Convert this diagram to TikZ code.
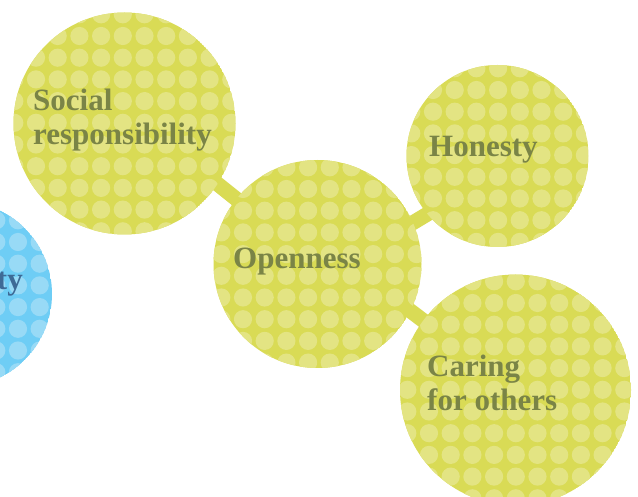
\documentclass[tikz,border=0pt]{standalone}
\usepackage{fontspec}
\setmainfont{Liberation Serif}
\definecolor{leaf}{RGB}{217,219,85}
\definecolor{leafdot}{RGB}{227,228,131}
\definecolor{sky}{RGB}{110,205,245}
\definecolor{skydot}{RGB}{152,218,246}
\definecolor{olive}{RGB}{122,132,70}
\definecolor{navy}{RGB}{62,106,150}
\tikzset{
  bubble/.style={circle, inner sep=0pt, minimum size=#1},
  labeltext/.style={anchor=base west, inner sep=0pt, align=left,
    font=\bfseries\fontsize{31}{34}\selectfont, text=olive},
  bar/.style={line width=15pt, draw=leaf},
}
\newcommand\dotgrid[6]{%
  \begin{scope}
    \clip (#1.center) circle (#2pt);
    \fill[#5] (#1.center) circle (#2pt);
    \foreach \i in {-6,...,6}{\foreach \j in {-6,...,6}{%
      \fill[#6] (#3+\i*21.7, #4+\j*21.7) circle (9.1pt);}}
  \end{scope}}
\begin{document}
\begin{tikzpicture}[x=1pt,y=-1pt]
\useasboundingbox (0,0) rectangle (638,497);
\fill[white] (0,0) rectangle (638,497);
% bubbles (positions)
\node[bubble=222pt] (soc) at (124.5,123.5) {};
\node[bubble=208pt] (open) at (317.5,264) {};
\node[bubble=182pt] (hon) at (497.5,156) {};
\node[bubble=231pt] (car) at (515.5,390) {};
\node[bubble=186pt] (blue) at (-41,294) {};
% connectors
\draw[bar] ([yshift=14pt]soc.center) -- (open.center);
\draw[bar] ([yshift=-16pt]open.center) -- ([yshift=-16pt]hon.center);
\draw[bar] ([yshift=23pt]open.center) -- (car.center);
% patterned fills
\dotgrid{soc}{111}{122.8}{122.8}{leaf}{leafdot}
\dotgrid{open}{104}{308.1}{254.1}{leaf}{leafdot}
\dotgrid{hon}{91}{498.1}{155.1}{leaf}{leafdot}
\dotgrid{car}{115.5}{515.8}{389.8}{leaf}{leafdot}
\dotgrid{blue}{93}{-47.1}{285.4}{sky}{skydot}
% labels
\node[labeltext] (socl) at (33,145) {Social\\responsibility};
\node[labeltext] (openl) at (233,269) {Openness};
\node[labeltext] (honl) at (429,157) {Honesty};
\node[labeltext] (carl) at (427,410) {Caring\\for others};
\node[labeltext, anchor=base east, text=navy] (bluel) at (23,290) {ty};
\end{tikzpicture}
\end{document}
